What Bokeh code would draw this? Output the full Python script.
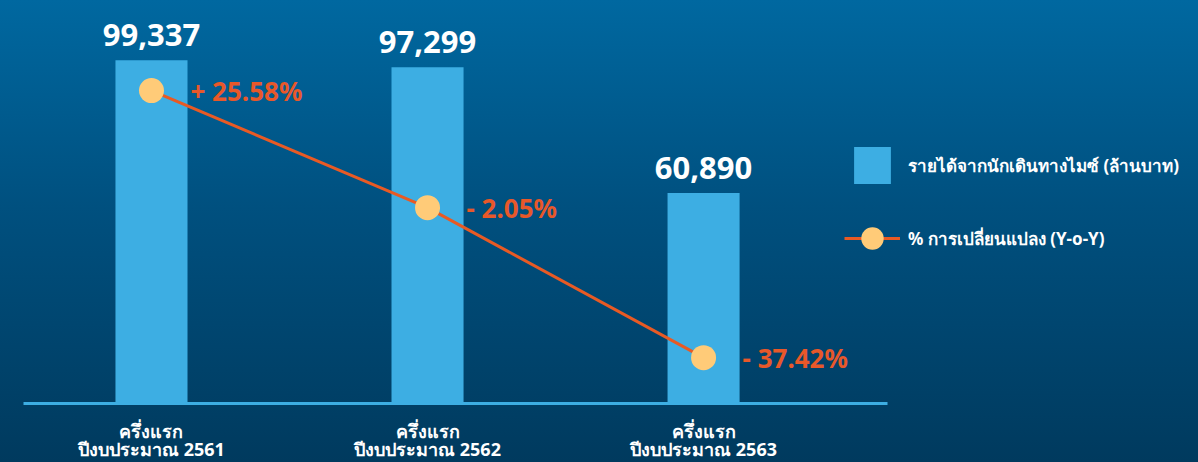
from bokeh.plotting import figure
from bokeh.models import Range1d, FixedTicker, Legend, LegendItem, ColumnDataSource
from bokeh.core.properties import value
from bokeh.embed import file_html
from bokeh.resources import INLINE

# ---- data ----
categories = ["ครึ่งแรก\nปีงบประมาณ 2561", "ครึ่งแรก\nปีงบประมาณ 2562", "ครึ่งแรก\nปีงบประมาณ 2563"]
revenue = [99337, 97299, 60890]
yoy_pct = [25.58, -2.05, -37.42]
series_names = ["รายได้จากนักเดินทางไมซ์ (ล้านบาท)", "% การเปลี่ยนแปลง (Y-o-Y)"]

xs = list(range(len(categories)))
rev_labels = [f"{v:,}" for v in revenue]
pct_labels = [("+ " if v >= 0 else "- ") + f"{abs(v):.2f}%" for v in yoy_pct]
cat_line1 = [c.split("\n")[0] for c in categories]
cat_line2 = [c.split("\n")[1] for c in categories]

FONT = "Noto Sans"
BAR = "#3daee3"
LINE = "#e85a24"
DOT = "#ffcb78"
PCT_TXT = "#e8582a"

p = figure(width=1182, height=454, output_backend="svg", toolbar_location=None,
           x_range=Range1d(-0.518, 3.764), y_range=Range1d(-17077, 114327),
           min_border_left=0, min_border_right=0, min_border_top=0, min_border_bottom=0)
p.background_fill_alpha = 0
p.border_fill_alpha = 0
p.outline_line_color = None
p.grid.visible = False
p.yaxis.visible = False

p.extra_y_ranges = {"pct": Range1d(-62.15, 44.93)}

src = ColumnDataSource(dict(x=xs, rev=revenue, pct=yoy_pct, rl=rev_labels, pl=pct_labels,
                            c1=cat_line1, c2=cat_line2, base=[0] * len(xs)))

bars = p.vbar(x="x", top="rev", bottom=0, width=0.261, source=src, fill_color=BAR, line_color=None)
p.text(x="x", y="rev", text="rl", source=src, text_align="center", text_baseline="bottom",
       y_offset=-14, text_color="white", text_font=value(FONT), text_font_style="bold",
       text_font_size="31px")

ln = p.line(x="x", y="pct", source=src, y_range_name="pct", line_color=LINE, line_width=3)
dots = p.scatter(x="x", y="pct", source=src, y_range_name="pct", size=25,
                 fill_color=DOT, line_color=None)
p.text(x="x", y="pct", text="pl", source=src, y_range_name="pct", x_offset=39,
       text_align="left", text_baseline="middle", text_color=PCT_TXT,
       text_font=value(FONT), text_font_style="bold", text_font_size="26px")

# category labels (two lines) under the baseline
for col, yoff in (("c1", 28), ("c2", 46)):
    p.text(x="x", y="base", text=col, source=src, y_offset=yoff, text_align="center",
           text_baseline="middle", text_color="white", text_font=value(FONT),
           text_font_size="18px", text_font_style="bold")

ax = p.xaxis[0]
ax.fixed_location = 0
ax.ticker = FixedTicker(ticks=[])
ax.bounds = (-0.4638, 2.6667)
ax.axis_line_color = BAR
ax.axis_line_width = 3
ax.major_tick_line_color = None
ax.minor_tick_line_color = None

def mk_legend(items, gw, gh, loc, standoff):
    lg = Legend(items=items, location=loc, glyph_width=gw, glyph_height=gh,
                label_standoff=standoff, padding=0, margin=0, spacing=0,
                border_line_alpha=0, background_fill_alpha=0,
                label_text_color="white", label_text_font=FONT,
                label_text_font_size="17px", label_text_font_style="bold")
    p.add_layout(lg, "center")

mk_legend([LegendItem(label=series_names[0], renderers=[bars])], 46, 46, (841, 274), 13)
mk_legend([LegendItem(label=series_names[1], renderers=[ln, dots])], 56, 56, (836, 196), 8)

html = file_html(p, INLINE)
style = ("<style>html{height:100%;background:linear-gradient(to bottom,#0068a0 0%,#00507f 45%,#003a5e 100%);}"
         "body{margin:8px;overflow:hidden;}</style>")
html = html.replace("</head>", style + "</head>", 1)
open("out.html", "w").write(html)
